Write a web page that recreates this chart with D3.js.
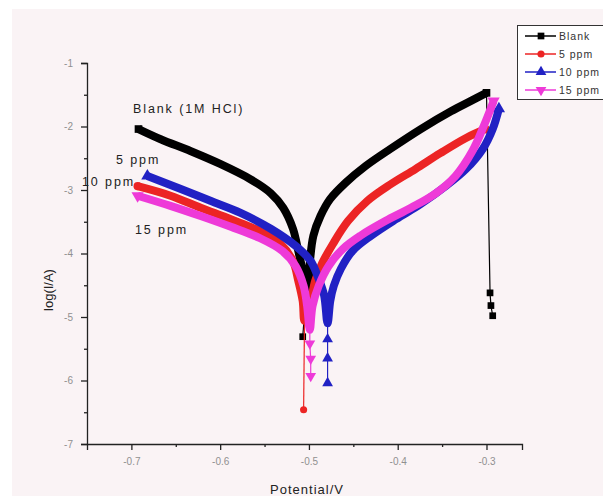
<!DOCTYPE html>
<html>
<head>
<meta charset="utf-8">
<script src="https://cdn.jsdelivr.net/npm/d3@7"></script>
<style>
  html, body { margin: 0; padding: 0; background: #ffffff; }
  svg { display: block; font-family: "Liberation Sans", Arial, sans-serif; }
</style>
</head>
<body>
<div id="chart"></div>
<script>
// potential (V) / log(I/A) pairs
var blankE = [-0.692, -0.667, -0.633, -0.600, -0.566, -0.543, -0.529, -0.518, -0.512, -0.507, -0.504,
              -0.501, -0.499, -0.495, -0.487, -0.476, -0.459, -0.436, -0.408, -0.374, -0.340, -0.318, -0.300];
var blankL = [-2.04, -2.20, -2.39, -2.59, -2.83, -3.05, -3.28, -3.61, -3.96, -4.28, -4.59,
              -4.62, -4.15, -3.72, -3.41, -3.14, -2.89, -2.62, -2.35, -2.04, -1.76, -1.60, -1.47];

var ppm5E = [-0.693, -0.656, -0.622, -0.588, -0.555, -0.532, -0.518, -0.512, -0.507, -0.505,
             -0.498, -0.493, -0.485, -0.473, -0.456, -0.434, -0.408, -0.380, -0.352, -0.323, -0.301];
var ppm5L = [-2.94, -3.09, -3.28, -3.46, -3.65, -3.85, -4.12, -4.43, -4.75, -5.06,
             -4.75, -4.43, -4.15, -3.85, -3.49, -3.17, -2.91, -2.67, -2.42, -2.18, -2.04];

var ppm10E = [-0.682, -0.645, -0.611, -0.577, -0.543, -0.515, -0.498, -0.489, -0.483, -0.479,
              -0.476, -0.472, -0.464, -0.451, -0.430, -0.402, -0.374, -0.346, -0.323, -0.304, -0.293, -0.286];
var ppm10L = [-2.78, -2.98, -3.17, -3.36, -3.61, -3.88, -4.12, -4.40, -4.65, -5.10,
              -4.75, -4.51, -4.24, -3.96, -3.72, -3.46, -3.22, -2.94, -2.67, -2.35, -2.04, -1.72];

var ppm15E = [-0.693, -0.656, -0.622, -0.588, -0.555, -0.530, -0.515, -0.506, -0.502, -0.499,
              -0.496, -0.489, -0.478, -0.462, -0.442, -0.414, -0.385, -0.357, -0.335, -0.316, -0.303, -0.292];
var ppm15L = [-3.09, -3.25, -3.41, -3.58, -3.76, -3.96, -4.20, -4.51, -4.83, -5.20,
              -4.83, -4.51, -4.20, -3.93, -3.72, -3.49, -3.28, -3.05, -2.78, -2.39, -1.99, -1.60];

// sparse points at the ends of the scans, where single markers are visible
var blankTailE = [-0.300, -0.296, -0.295, -0.293];
var blankTailL = [-1.47, -4.62, -4.82, -4.98];
var blankMinE = [-0.503, -0.507];
var blankMinL = [-4.62, -5.31];
var ppm5TailE = [-0.505, -0.506];
var ppm5TailL = [-5.06, -6.46];
var ppm10TailE = [-0.479, -0.479, -0.479, -0.479];
var ppm10TailL = [-5.10, -5.35, -5.65, -6.04];
var ppm15TailE = [-0.499, -0.499, -0.498, -0.498];
var ppm15TailL = [-5.20, -5.42, -5.66, -5.93];

var seriesNames = ['Blank', '5 ppm', '10 ppm', '15 ppm'];
var xTicks = [-0.7, -0.6, -0.5, -0.4, -0.3];
var yTicks = [-1, -2, -3, -4, -5, -6, -7];

function zip(a, b) {
    return a.map(function (v, i) { return [v, b[i]]; });
}

var series = [
    { name: seriesNames[0], color: '#000000', symbol: d3.symbolSquare, size: 45,
      main: zip(blankE, blankL), tails: [zip(blankTailE, blankTailL), zip(blankMinE, blankMinL)] },
    { name: seriesNames[1], color: '#ec2424', symbol: d3.symbolCircle, size: 40,
      main: zip(ppm5E, ppm5L), tails: [zip(ppm5TailE, ppm5TailL)] },
    { name: seriesNames[2], color: '#2121c4', symbol: d3.symbolTriangle, size: 50,
      main: zip(ppm10E, ppm10L), tails: [zip(ppm10TailE, ppm10TailL)] },
    { name: seriesNames[3], color: '#ee3ad8', symbol: d3.symbolTriangle, size: 50, flip: true,
      main: zip(ppm15E, ppm15L), tails: [zip(ppm15TailE, ppm15TailL)] }
];

var width = 603, height = 496;

var svg = d3.select('#chart').append('svg')
    .attr('width', width)
    .attr('height', height);

// pale backdrop of the original figure
svg.append('rect')
    .attr('x', 12).attr('y', 9)
    .attr('width', width - 12).attr('height', height - 9)
    .attr('fill', '#faf3f5');

var x = d3.scaleLinear().domain([-0.75, -0.26]).range([87, 522]);
var y = d3.scaleLinear().domain([-7, -1]).range([444, 63]);

var line = d3.line()
    .x(function (d) { return x(d[0]); })
    .y(function (d) { return y(d[1]); });

var smooth = d3.line()
    .x(function (d) { return x(d[0]); })
    .y(function (d) { return y(d[1]); })
    .curve(d3.curveCatmullRom.alpha(0.5));

function markerPath(s) {
    return d3.symbol().type(s.symbol).size(s.size)();
}

function markerAt(s) {
    return function (d) {
        return 'translate(' + x(d[0]) + ',' + y(d[1]) + ')' + (s.flip ? ' rotate(180)' : '');
    };
}

series.forEach(function (s) {
    var g = svg.append('g');
    s.tails.forEach(function (t) {
        g.append('path')
            .attr('d', line(t))
            .attr('fill', 'none')
            .attr('stroke', s.color)
            .attr('stroke-width', 1.2);
        g.selectAll(null)
            .data(t.slice(1))
            .enter().append('path')
            .attr('d', markerPath(s))
            .attr('fill', s.color)
            .attr('transform', markerAt(s));
    });
    g.append('path')
        .attr('d', smooth(s.main))
        .attr('fill', 'none')
        .attr('stroke', s.color)
        .attr('stroke-width', 8)
        .attr('stroke-linejoin', 'round')
        .attr('stroke-linecap', 'butt');
    // end markers of the thick band
    var ends = [s.main[0], s.main[s.main.length - 1]];
    g.selectAll(null)
        .data(ends)
        .enter().append('path')
        .attr('d', d3.symbol().type(s.symbol).size(s.size * 1.3)())
        .attr('fill', s.color)
        .attr('transform', markerAt(s));
});

// axes
svg.append('g')
    .attr('transform', 'translate(0,' + 444 + ')')
    .call(d3.axisBottom(x).tickValues(xTicks).tickSize(6).tickPadding(8)
        .tickFormat(function (d) { return d3.format('.1f')(d).replace('−', '-'); }));
svg.append('g')
    .attr('transform', 'translate(0,' + 444 + ')')
    .call(d3.axisBottom(x).tickValues([-0.65, -0.55, -0.45, -0.35]).tickSize(3).tickFormat(''))
    .select('.domain').remove();

svg.append('g')
    .attr('transform', 'translate(87,0)')
    .call(d3.axisLeft(y).tickValues(yTicks).tickSize(6).tickPadding(8)
        .tickFormat(function (d) { return String(d); }));
svg.append('g')
    .attr('transform', 'translate(87,0)')
    .call(d3.axisLeft(y).tickValues([-1.5, -2.5, -3.5, -4.5, -5.5, -6.5]).tickSize(3).tickFormat(''))
    .select('.domain').remove();

svg.selectAll('.domain').attr('stroke', '#222').attr('stroke-width', 1.3);
svg.selectAll('.tick line').attr('stroke', '#222').attr('stroke-width', 1.3);
svg.selectAll('.tick text').attr('fill', '#909090').attr('font-size', 10)
    .attr('font-family', '"Liberation Sans", Arial, sans-serif');

svg.append('text')
    .attr('transform', 'translate(53,290) rotate(-90)')
    .attr('text-anchor', 'middle')
    .attr('font-size', 13)
    .attr('fill', '#222')
    .text('log(I/A)');

svg.append('text')
    .attr('x', 307).attr('y', 494)
    .attr('text-anchor', 'middle')
    .attr('font-size', 13)
    .attr('letter-spacing', 1)
    .attr('fill', '#222')
    .text('Potential/V');

// labels next to the curves
var notes = [
    { text: 'Blank (1M HCl)', x: 133, y: 113 },
    { text: '5 ppm', x: 116, y: 164 },
    { text: '10 ppm', x: 82, y: 186 },
    { text: '15 ppm', x: 135, y: 234 }
];
svg.selectAll('.note')
    .data(notes)
    .enter().append('text')
    .attr('class', 'note')
    .attr('x', function (d) { return d.x; })
    .attr('y', function (d) { return d.y; })
    .attr('font-size', 12.5)
    .attr('letter-spacing', 1.9)
    .attr('fill', '#222')
    .text(function (d) { return d.text; });

// legend
var legend = svg.append('g');
legend.append('rect')
    .attr('x', 517.5).attr('y', 25.5)
    .attr('width', 100).attr('height', 74)
    .attr('fill', '#ffffff')
    .attr('stroke', '#333')
    .attr('stroke-width', 1);
var rows = [36, 54, 72, 90];
series.forEach(function (s, i) {
    var row = legend.append('g').attr('transform', 'translate(0,' + rows[i] + ')');
    row.append('line')
        .attr('x1', 525).attr('x2', 556)
        .attr('stroke', s.color).attr('stroke-width', 1.5);
    row.append('path')
        .attr('d', markerPath(s))
        .attr('fill', s.color)
        .attr('transform', 'translate(541,0)' + (s.flip ? ' rotate(180)' : ''));
    row.append('text')
        .attr('x', 559).attr('y', 4)
        .attr('font-size', 10.5)
        .attr('letter-spacing', 1)
        .attr('fill', '#333')
        .text(s.name);
});
</script>
</body>
</html>
